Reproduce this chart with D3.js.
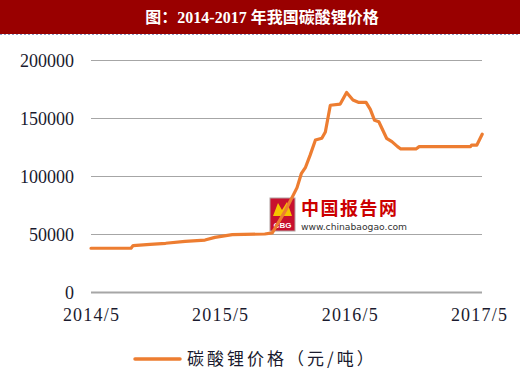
<!DOCTYPE html>
<html>
<head>
<meta charset="utf-8">
<script src="https://cdn.jsdelivr.net/npm/d3@7"></script>
<style>
  body { margin: 0; background: #fff; }
  svg { display: block; }
  .c-axis text { font-family: "Liberation Serif", "DejaVu Serif", serif; font-size: 18px; fill: #1a1a2e; }
  .c-axis path { display: none; }
</style>
</head>
<body>
<div id="lithiumChart"></div>
<script>
// values (yuan / ton)
const dates = [
  '2014-05-01', '2014-08-22', '2014-08-28', '2014-10-15', '2014-11-28', '2015-01-22',
  '2015-03-19', '2015-04-16', '2015-06-04', '2015-09-04', '2015-09-25', '2015-11-01',
  '2015-12-04', '2015-12-16', '2015-12-28', '2016-01-10', '2016-01-25', '2016-02-12',
  '2016-02-22', '2016-03-07', '2016-04-04', '2016-04-22', '2016-05-10', '2016-05-25',
  '2016-06-16', '2016-06-28', '2016-07-10', '2016-07-22', '2016-08-13', '2016-08-28',
  '2016-09-13', '2016-09-22', '2016-11-04', '2016-11-13', '2017-04-07', '2017-04-10',
  '2017-04-25', '2017-05-10'
];
const prices = [
  37700, 37700, 40000, 41000, 42000, 43700,
  44800, 47100, 49400, 50000, 51000, 70000,
  90000, 102000, 107500, 118000, 131000, 132500,
  138000, 161000, 162000, 172000, 165500, 163500,
  163500, 157500, 148000, 146800, 132500, 129600,
  125300, 123300, 123300, 125300, 125300, 126700,
  126700, 136000
];
const xTickDates = ['2014-05-01', '2015-05-01', '2016-05-01', '2017-05-01'];
const yTicks = [0, 50000, 100000, 150000, 200000];
const titleText = '图：2014-2017 年我国碳酸锂价格';
const seriesName = '碳酸锂价格（元/吨）';

const parseDate = d3.timeParse('%Y-%m-%d');
const series = dates.map((d, i) => ({ date: parseDate(d), price: prices[i] }));

const width = 520;
const height = 380;
const plotLeft = 91;
const plotRight = 482;
const lineColor = '#ED7D31';

const svg = d3.select('#lithiumChart')
  .append('svg')
  .attr('width', width)
  .attr('height', height);

// title bar
svg.append('rect')
  .attr('x', 0).attr('y', 0)
  .attr('width', width).attr('height', 34)
  .attr('fill', '#990000');
svg.append('line')
  .attr('x1', 0).attr('x2', width)
  .attr('y1', 34.5).attr('y2', 34.5)
  .attr('stroke', '#8e9cc8')
  .attr('stroke-dasharray', '2,2');
svg.append('text')
  .attr('x', 262).attr('y', 23)
  .attr('text-anchor', 'middle')
  .attr('fill', '#fff')
  .attr('font-weight', 'bold')
  .attr('font-family', '"Liberation Serif", "Noto Sans CJK SC", serif')
  .attr('font-size', 16)
  .text(titleText);

// scales
const xScale = d3.scaleTime()
  .domain([parseDate(xTickDates[0]), parseDate(xTickDates[xTickDates.length - 1])])
  .range([plotLeft, 479]);
const yScale = d3.scaleLinear().domain([0, 200000]).range([292, 60]);

// y axis with gridlines
const yAxis = d3.axisLeft(yScale)
  .tickValues(yTicks)
  .tickSize(-(plotRight - plotLeft))
  .tickPadding(17)
  .tickFormat(d3.format('d'));

const yG = svg.append('g')
  .attr('class', 'c-axis')
  .attr('transform', 'translate(' + plotLeft + ',0)')
  .call(yAxis);
yG.selectAll('.tick line')
  .attr('stroke', '#a6a6a6')
  .attr('stroke-width', d => d === 0 ? 2 : 1.2);
yG.selectAll('.tick text').attr('dy', '0.35em');

// x axis
const xAxis = d3.axisBottom(xScale)
  .tickValues(xTickDates.map(parseDate))
  .tickSize(0)
  .tickPadding(16)
  .tickFormat(d3.timeFormat('%Y/%-m'));

svg.append('g')
  .attr('class', 'c-axis')
  .attr('transform', 'translate(0,292)')
  .call(xAxis)
  .selectAll('text')
  .attr('letter-spacing', 1.2);

// watermark
const wm = svg.append('g').attr('class', 'c-watermark');
wm.append('rect')
  .attr('x', 270).attr('y', 198).attr('width', 25).attr('height', 33)
  .attr('fill', '#c8102e').attr('stroke', '#b0a0a0');
wm.append('path')
  .attr('d', 'M273,216 L278,203 L282,210 L287,202 L292,216 Z')
  .attr('fill', '#f5c400');
wm.append('text')
  .attr('x', 282.5).attr('y', 228)
  .attr('text-anchor', 'middle')
  .attr('fill', '#fff')
  .attr('font-family', 'Liberation Sans, sans-serif')
  .attr('font-weight', 'bold')
  .attr('font-size', 8)
  .text('CBG');
wm.append('text')
  .attr('x', 301).attr('y', 214.5)
  .attr('fill', '#cc0000')
  .attr('font-family', '"Noto Sans CJK SC", sans-serif')
  .attr('font-weight', 'bold')
  .attr('font-size', 18)
  .attr('letter-spacing', 1.5)
  .text('中国报告网');
wm.append('text')
  .attr('x', 301).attr('y', 229.5)
  .attr('fill', '#333')
  .attr('font-family', '"DejaVu Sans", sans-serif')
  .attr('font-size', 9.2)
  .text('www.chinabaogao.com');

// price line
const line = d3.line()
  .x(d => xScale(d.date))
  .y(d => yScale(d.price));

svg.append('path')
  .datum(series)
  .attr('fill', 'none')
  .attr('stroke', lineColor)
  .attr('stroke-width', 3.2)
  .attr('stroke-linejoin', 'round')
  .attr('stroke-linecap', 'round')
  .attr('d', line);

// legend
svg.append('line')
  .attr('x1', 135).attr('x2', 180)
  .attr('y1', 359).attr('y2', 359)
  .attr('stroke', lineColor)
  .attr('stroke-width', 3.5)
  .attr('stroke-linecap', 'round');
svg.append('text')
  .attr('x', 187).attr('y', 365)
  .attr('fill', '#1a1a2e')
  .attr('font-family', '"Noto Sans CJK SC", serif')
  .attr('font-size', 17)
  .attr('letter-spacing', 3)
  .text(seriesName);
</script>
</body>
</html>
